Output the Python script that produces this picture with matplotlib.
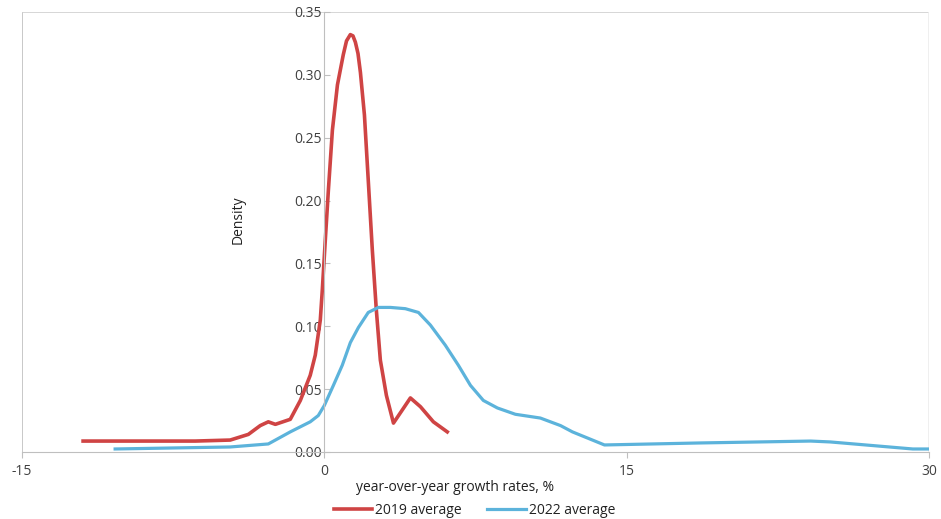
import matplotlib
matplotlib.use("Agg")
import matplotlib.pyplot as plt

plt.rcParams['font.family'] = ['Open Sans', 'DejaVu Sans']

# growth rate (%) and density, 2019 average
x_2019 = [-11.97, -6.4, -4.67, -3.77, -3.18, -2.78, -2.43, -1.69, -1.19, -0.7, -0.45,
          -0.2, -0.1, 0.05, 0.2, 0.4, 0.65, 0.94, 1.1, 1.29, 1.42, 1.54, 1.67, 1.79, 1.99, 2.18,
          2.38, 2.58, 2.78, 3.08, 3.43, 4.27, 4.77, 5.41, 6.1]
d_2019 = [0.0087, 0.0087, 0.0095, 0.014, 0.021, 0.024, 0.022, 0.026, 0.041, 0.061, 0.077,
          0.105, 0.129, 0.169, 0.208, 0.256, 0.292, 0.316, 0.327, 0.332, 0.331, 0.326, 0.317, 0.302, 0.268, 0.216,
          0.161, 0.113, 0.073, 0.045, 0.023, 0.043, 0.036, 0.024, 0.016]

# growth rate (%) and density, 2022 average
x_2022 = [-10.38, -4.67, -2.78, -1.69, -0.7, -0.3, 0.0, 0.45, 0.89, 1.29, 1.69, 2.18,
          2.68, 3.28, 4.02, 4.67, 5.26, 6.0, 6.65, 7.25, 7.89, 8.59, 9.48, 10.72,
          11.72, 12.31, 13.9, 18.67, 24.13, 25.1, 29.2, 30.0]
d_2022 = [0.0024, 0.004, 0.0064, 0.016, 0.024, 0.029, 0.037, 0.053, 0.069, 0.087, 0.099, 0.111,
          0.115, 0.115, 0.114, 0.111, 0.101, 0.085, 0.069, 0.053, 0.041, 0.035, 0.030, 0.027,
          0.021, 0.016, 0.0056, 0.0072, 0.0087, 0.008, 0.0024, 0.0024]

x_ticks = [-15, 0, 15, 30]
y_ticks = [0.00, 0.05, 0.10, 0.15, 0.20, 0.25, 0.30, 0.35]

red = '#cf4444'
blue = '#5cb3db'
grey = '#bfbfbf'
txt = '#404040'

fig = plt.figure(figsize=(9.41, 5.19), dpi=100)
ax = fig.add_axes([0.0234, 0.1291, 0.9638, 0.8478])

ax.plot(x_2019, d_2019, color=red, lw=2.6, label='2019 average', solid_joinstyle='round')
ax.plot(x_2022, d_2022, color=blue, lw=2.3, label='2022 average', solid_joinstyle='round')

ax.set_xlim(-15, 30)
ax.set_ylim(0, 0.35)

# y axis crosses at x = 0
ax.spines['left'].set_position(('data', 0))
ax.spines['left'].set_color(grey)
ax.spines['bottom'].set_color(grey)
ax.spines['top'].set_visible(False)
ax.spines['right'].set_visible(False)
# outer frame of the plot area
ax.axvline(-15, color=grey, lw=1.2, zorder=0)
ax.axhline(0.35, color='#d0d0d0', lw=1.2, zorder=0)
ax.axvline(30, color='#ececec', lw=1.2, zorder=0)

ax.set_xticks(x_ticks)
ax.set_xticklabels(['-15', '0', '15', '30'])
ax.set_yticks(y_ticks)
ax.set_yticklabels([f'{v:.2f}' for v in y_ticks])
ax.tick_params(axis='both', colors=grey, labelcolor=txt, labelsize=10, length=4)
ax.tick_params(axis='y', direction='in', pad=2)
ax.tick_params(axis='x', direction='out', pad=5)

ax.set_ylabel('Density', fontsize=10, color='#222222')
ax.yaxis.set_label_coords(0.246, 0.527)
ax.set_xlabel('year-over-year growth rates, %', fontsize=10, color='#222222')
ax.xaxis.set_label_coords(0.477, -0.064)

fig.legend(loc='center', bbox_to_anchor=(0.504, 0.017), ncol=2, frameon=False,
           fontsize=10, handlelength=2.8, handletextpad=0.2, columnspacing=1.8,
           labelcolor='#222222')

fig.savefig('out.png', dpi=100)
